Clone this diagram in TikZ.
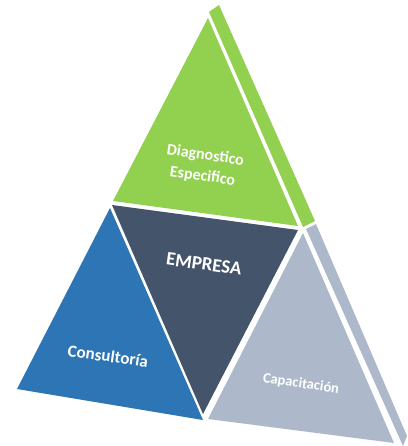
\documentclass[tikz,border=0pt]{standalone}
\usepackage{fontspec}
\setmainfont{Carlito}
\definecolor{cgreen}{HTML}{92D050}
\definecolor{cdark}{HTML}{44546A}
\definecolor{cblue}{HTML}{2E75B6}
\definecolor{cgray}{HTML}{ADB9CA}
\tikzset{
  face/.style={draw=none},
  lbl/.style={text=white,font=\bfseries,align=center,inner sep=0pt,rotate=-8}
}
\begin{document}
\begin{tikzpicture}[x=1pt,y=-1pt]
\useasboundingbox (0,0) rectangle (407,446);
% green top segment
\fill[cgreen] (209,12) -- (219,5) -- (315,221) -- (303,227) -- cycle;
\fill[cgreen] (208,18) -- (113,201) -- (298,226) -- cycle;
% dark centre
\fill[cdark] (112,205) -- (298,230) -- (203,414) -- cycle;
% blue left
\fill[cblue] (110,208) -- (17,389) -- (203,420) -- cycle;
% gray right
\fill[cgray] (306,229) -- (316,224) -- (407,436) -- (403,446) -- cycle;
\fill[cgray] (303,233) -- (208,419) -- (394,443) -- cycle;
% labels
\node[lbl,font=\bfseries\fontsize{16}{21}\selectfont] (diag) at (204,166) {Diagnostico\\Especifico};
\node[lbl,font=\bfseries\fontsize{19}{22}\selectfont] (emp) at (204,264) {EMPRESA};
\node[lbl,font=\bfseries\fontsize{17}{20}\selectfont] (cons) at (108,356) {Consultoría};
\node[lbl,font=\bfseries\fontsize{14.5}{17}\selectfont] (capa) at (301,384) {Capacitación};
\end{tikzpicture}
\end{document}
